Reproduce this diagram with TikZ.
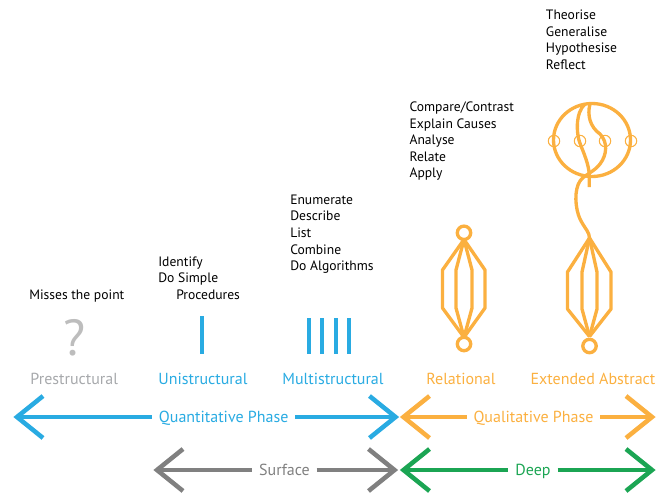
\documentclass[tikz,border=0pt]{standalone}
\usepackage{fontspec}
\setmainfont{PT Sans}
\definecolor{sblue}{HTML}{29ABE2}
\definecolor{sorange}{HTML}{FBB040}
\definecolor{sgray}{HTML}{808080}
\definecolor{lgray}{HTML}{A7A9AC}
\definecolor{qgray}{HTML}{BDBDBD}
\definecolor{sgreen}{HTML}{1BA553}
\begin{document}
\begin{tikzpicture}[x=0.75pt,y=-0.75pt,
  lst/.style={anchor=base west, inner sep=0, font=\fontsize{10.2}{12}\selectfont},
  lvl/.style={anchor=base, inner sep=0, font=\fontsize{12}{14}\selectfont},
  phase/.style={anchor=base, inner xsep=5pt, inner ysep=0, font=\fontsize{12}{14}\selectfont},
  arr/.style={line width=3.4pt},
  chev/.style={line width=3.4pt, line join=miter},
  shp/.style={draw=sorange, line width=2.5pt, line join=round},
  ring/.style={draw=sorange, line width=0.8pt},
  bar/.style={draw=sblue, line width=3pt}]
\useasboundingbox (0,0) rectangle (657,493);

% ---- verb lists
\node[lst] (mp) at (29,299) {Misses the point};
\node[lst] (u1) at (158,266) {Identify};
\node[lst] (u2) at (158,282.7) {Do Simple};
\node[lst] (u3) at (176,299.3) {Procedures};
\node[lst] (m1) at (290,204) {Enumerate};
\node[lst] (m2) at (290,220.7) {Describe};
\node[lst] (m3) at (290,237.3) {List};
\node[lst] (m4) at (290,254) {Combine};
\node[lst] (m5) at (290,270.7) {Do Algorithms};
\node[lst] (r1) at (409.3,111.7) {Compare/Contrast};
\node[lst] (r2) at (409.3,128.3) {Explain Causes};
\node[lst] (r3) at (409.3,144.3) {Analyse};
\node[lst] (r4) at (409.3,161) {Relate};
\node[lst] (r5) at (409.3,177.7) {Apply};
\node[lst] (e1) at (545.7,19.3) {Theorise};
\node[lst] (e2) at (545.7,36) {Generalise};
\node[lst] (e3) at (545.7,52.7) {Hypothesise};
\node[lst] (e4) at (545.7,69.3) {Reflect};

% ---- icons
\node[anchor=base, inner sep=0, text=qgray, font=\fontsize{38}{40}\selectfont] (qm) at (75,355) {?};
\draw[bar] (202,316) -- (202,354);
\foreach \x in {309,322,335.5,349} \draw[bar] (\x,318) -- (\x,354);

% relational
\coordinate (rT) at (464,239.5);
\coordinate (rB) at (464,337.3);
\draw[shp] (464,232.8) circle (6.7);
\draw[shp] (464,344) circle (6.7);
\draw[shp] (rT) -- (442.5,270) -- (442.5,308) -- (rB);
\draw[shp] (rT) -- (485,270) -- (485,308) -- (rB);
\draw[shp] (rT) -- (456,270) -- (456,308) -- (rB);
\draw[shp] (rT) -- (472,270) -- (472,308) -- (rB);

% extended abstract
\coordinate (eT) at (589.5,238);
\coordinate (eB) at (589.5,336.5);
\draw[shp] (589.5,346) circle (6.7);
\draw[shp] (eT) -- (567.5,272) -- (567.5,309) -- (eB);
\draw[shp] (eT) -- (611,272) -- (611,309) -- (eB);
\draw[shp] (eT) -- (582,272) -- (582,309) -- (eB);
\draw[shp] (eT) -- (597,272) -- (597,309) -- (eB);
\draw[shp] (592,140) ellipse [x radius=38.5, y radius=36.5];
\draw[shp] (585,104) .. controls (575,113) and (576,135) .. (581,146)
  .. controls (586,158) and (589.3,168) .. (589.3,176) -- (589.3,187);
\draw[shp] (590,104) .. controls (587,115) and (590,127) .. (600,134)
  .. controls (608,142) and (607,155) .. (600,164)
  .. controls (594,172) and (584,175) .. (580,181)
  .. controls (574,190) and (575,208) .. (580,219)
  .. controls (585,229) and (589.5,232) .. (eT);
\foreach \x in {554,580,605,631} \draw[ring] (\x,141) circle (5.7);

% ---- level labels
\node[lvl, text=lgray] (pre) at (74.2,384.3) {Prestructural};
\node[lvl, text=sblue] (uni) at (203,384.3) {Unistructural};
\node[lvl, text=sblue] (mul) at (333,384.3) {Multistructural};
\node[lvl, text=sorange] (rel) at (461,384.3) {Relational};
\node[lvl, text=sorange] (ext) at (593,384.3) {Extended Abstract};

% ---- phase arrows
\coordinate (qnL) at (17,417);  \coordinate (qnR) at (395.5,417);
\coordinate (qlL) at (403.5,417); \coordinate (qlR) at (652,417);
\coordinate (sfL) at (157,470); \coordinate (sfR) at (394.5,470);
\coordinate (dpL) at (403.5,470); \coordinate (dpR) at (652,470);

\node[phase, text=sblue] (qn) at (223.7,422.5) {Quantitative Phase};
\node[phase, text=sorange] (ql) at (533.5,422.5) {Qualitative Phase};
\node[phase, text=sgray] (sf) at (284.5,475.5) {Surface};
\node[phase, text=sgreen] (dp) at (533,475.5) {Deep};

\draw[arr, sblue] (qnL) -- (qn.west |- qnL) (qn.east |- qnR) -- (qnR);
\draw[chev, sblue] (qnL) ++(26,-21) -- (qnL) -- ++(26,21);
\draw[chev, sblue] (qnR) ++(-26,-21) -- (qnR) -- ++(-26,21);

\draw[arr, sorange] (qlL) -- (ql.west |- qlL) (ql.east |- qlR) -- (qlR);
\draw[chev, sorange] (qlL) ++(26,-21) -- (qlL) -- ++(26,21);
\draw[chev, sorange] (qlR) ++(-26,-21) -- (qlR) -- ++(-26,21);

\draw[arr, sgray] (sfL) -- (sf.west |- sfL) (sf.east |- sfR) -- (sfR);
\draw[chev, sgray] (sfL) ++(26,-21) -- (sfL) -- ++(26,21);
\draw[chev, sgray] (sfR) ++(-26,-21) -- (sfR) -- ++(-26,21);

\draw[arr, sgreen] (dpL) -- (dp.west |- dpL) (dp.east |- dpR) -- (dpR);
\draw[chev, sgreen] (dpL) ++(26,-21) -- (dpL) -- ++(26,21);
\draw[chev, sgreen] (dpR) ++(-26,-21) -- (dpR) -- ++(-26,21);
\end{tikzpicture}
\end{document}
